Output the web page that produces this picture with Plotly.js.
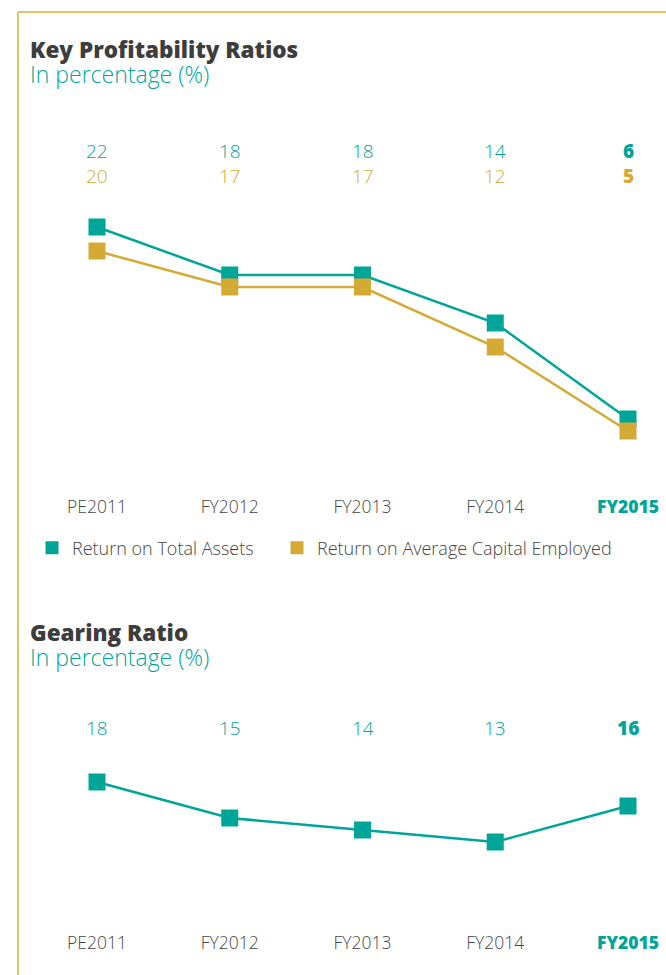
<!DOCTYPE html>
<html><head><meta charset="utf-8">
<script src="https://cdn.plot.ly/plotly-3.0.1.min.js"></script>
<style>html,body{margin:0;padding:0;background:#fff}#chart{width:666px;height:975px}</style>
</head><body><div id="chart"></div>
<script>
const categories = ["PE2011","FY2012","FY2013","FY2014","FY2015"];
const returnOnTotalAssets = [22,18,18,14,6];
const returnOnAvgCapitalEmployed = [20,17,17,12,5];
const gearingRatio = [18,15,14,13,16];

const TEAL = "#00a59a", GOLD = "#d4aa35", GRAY = "#454545";
const FONT = "'Open Sans', Lato, sans-serif";
const last = categories.length - 1;
const tickText = categories.map((c,i)=> i===last ? `<span style="font-weight:800;fill:${TEAL}">${c}</span>` : c);

const traces = [
  {x:[null], y:[null], mode:"markers", marker:{symbol:"square",size:13,color:TEAL}, name:"Return on Total Assets", showlegend:true, legend:"legend"},
  {x:[null], y:[null], mode:"markers", marker:{symbol:"square",size:13,color:GOLD}, name:"Return on Average Capital Employed", showlegend:true, legend:"legend2"},
  {x:categories, y:returnOnTotalAssets, xaxis:"x", yaxis:"y", mode:"lines+markers", showlegend:false,
   line:{color:TEAL,width:2.5}, marker:{symbol:"square",size:17,color:TEAL}, name:"Return on Total Assets"},
  {x:categories, y:returnOnAvgCapitalEmployed, xaxis:"x", yaxis:"y", mode:"lines+markers", showlegend:false,
   line:{color:GOLD,width:2.5}, marker:{symbol:"square",size:17,color:GOLD}, name:"Return on Average Capital Employed"},
  {x:categories, y:gearingRatio, xaxis:"x2", yaxis:"y2", mode:"lines+markers", showlegend:false,
   line:{color:TEAL,width:2.5}, marker:{symbol:"square",size:17,color:TEAL}, name:"Gearing Ratio"}
];

const annotations = [];
function valueLabels(vals, color, yPaper, xref){
  vals.forEach((v,i)=>annotations.push({x:categories[i], y:yPaper, xref:xref, yref:"paper",
    text: i===last?`<span style="font-weight:800">${v}</span>`:String(v),
    showarrow:false, xanchor:"center", yanchor:"middle", font:{family:FONT,size:19,weight:300,color:color}}));
}
valueLabels(returnOnTotalAssets, TEAL, 1-151/975, "x");
valueLabels(returnOnAvgCapitalEmployed, GOLD, 1-176/975, "x");
valueLabels(gearingRatio, TEAL, 1-728/975, "x2");
function title(main, yTop){
  annotations.push({x:28/666, y:1-yTop/975, xref:"paper", yref:"paper", xanchor:"left", yanchor:"top", align:"left", showarrow:false,
    text:`<span style="font-size:22.5px;font-weight:800;fill:#3d3d3d">${main}</span><br><span style="font-size:23px">In percentage (%)</span>`,
    font:{family:FONT,size:19,weight:300,color:TEAL}});
}
title("Key Profitability Ratios", 32);
title("Gearing Ratio", 615);

const xr = [-97/132.75, -97/132.75 + 666/132.75];
const xBase = {type:"category", range:xr, showgrid:false, zeroline:false, showline:false, ticks:"", fixedrange:true,
  tickvals:categories, ticktext:tickText, tickfont:{family:FONT,size:17.5,weight:300,color:GRAY}};
const yBase = {showgrid:false, zeroline:false, showline:false, showticklabels:false, ticks:"", fixedrange:true};
const legBase = {orientation:"h", xanchor:"left", yanchor:"middle", y:1-548/975,
  font:{family:FONT,size:18,weight:300,color:GRAY}, bgcolor:"rgba(0,0,0,0)", itemclick:false, itemdoubleclick:false};

const layout = {
  width:666, height:975, margin:{l:0,r:0,t:0,b:0}, paper_bgcolor:"#fff", plot_bgcolor:"rgba(0,0,0,0)",
  font:{family:FONT},
  xaxis:Object.assign({}, xBase, {anchor:"y"}),
  xaxis2:Object.assign({}, xBase, {anchor:"y2"}),
  yaxis:Object.assign({}, yBase, {domain:[1-494/975, 1-130/975], range:[-3/12, (491-130)/12]}),
  yaxis2:Object.assign({}, yBase, {domain:[1-930/975, 1-700/975], range:[(998-930)/12, (998-700)/12]}),
  showlegend:true,
  legend:Object.assign({}, legBase, {x:32/666}),
  legend2:Object.assign({}, legBase, {x:277/666}),
  annotations:annotations,
  shapes:[
    {type:"line", xref:"paper", yref:"paper", x0:18/666, x1:1, y0:1-12/975, y1:1-12/975, line:{color:"#e2c465",width:2}},
    {type:"line", xref:"paper", yref:"paper", x0:18/666, x1:18/666, y0:1-12/975, y1:0, line:{color:"#e2c465",width:2}}
  ]
};
Plotly.newPlot("chart", traces, layout, {displayModeBar:false, staticPlot:true});
</script></body></html>
